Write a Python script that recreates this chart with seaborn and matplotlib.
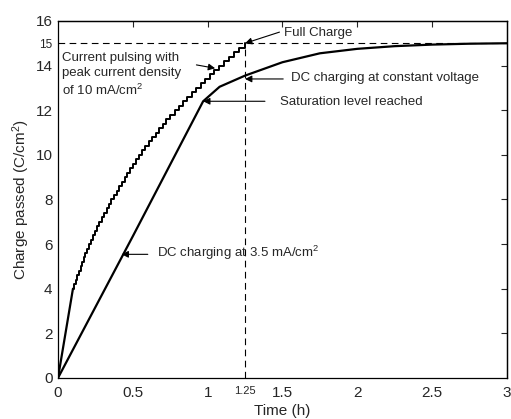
import pandas as pd
import numpy as np
import matplotlib
matplotlib.use("Agg")
import matplotlib.pyplot as plt
import seaborn as sns

# initial fast rise before the pulse teeth show up
rise_t = [0.0, 0.1]
rise_q = [0.0, 4.0]

# current pulsing (10 mA/cm2 peak): time at which each ~0.2 C/cm2 pulse lands
pulse_t = [0.1000, 0.1100, 0.1200, 0.1300, 0.1406, 0.1510, 0.1617, 0.1723,
           0.1833, 0.1944, 0.2066, 0.2197, 0.2336, 0.2479, 0.2625, 0.2773,
           0.2924, 0.3081, 0.3242, 0.3408, 0.3575, 0.3742, 0.3914, 0.4089,
           0.4268, 0.4446, 0.4630, 0.4815, 0.5000, 0.5200, 0.5406, 0.5620,
           0.5826, 0.6057, 0.6286, 0.6524, 0.6762, 0.7000, 0.7250, 0.7513,
           0.7792, 0.8097, 0.8353, 0.8639, 0.8926, 0.9221, 0.9531, 0.9844,
           1.0147, 1.0441, 1.0750, 1.1078, 1.1400, 1.1733, 1.2090, 1.2500]
pulse_q = [4.0, 4.2, 4.4, 4.6, 4.8, 5.0, 5.2, 5.4,
           5.6, 5.8, 6.0, 6.2, 6.4, 6.6, 6.8, 7.0,
           7.2, 7.4, 7.6, 7.8, 8.0, 8.2, 8.4, 8.6,
           8.8, 9.0, 9.2, 9.4, 9.6, 9.8, 10.0, 10.2,
           10.4, 10.6, 10.8, 11.0, 11.2, 11.4, 11.6, 11.8,
           12.0, 12.2, 12.4, 12.6, 12.8, 13.0, 13.2, 13.4,
           13.6, 13.8, 14.0, 14.2, 14.4, 14.6, 14.8, 15.0]

# DC charging at 3.5 mA/cm2, then constant voltage
dc_t = [0.0, 0.5, 0.97, 1.08, 1.25, 1.5, 1.75, 2.0, 2.25, 2.5, 2.75, 3.0]
dc_q = [0.0, 6.35, 12.4, 13.05, 13.55, 14.15, 14.55, 14.75, 14.87, 14.94, 14.98, 15.0]

full_t = 1.25
full_q = 15

x_ticks = [0, 0.5, 1, 1.25, 1.5, 2, 2.5, 3]
x_labels = ["0", "0.5", "1", "1.25", "1.5", "2", "2.5", "3"]
y_ticks = [0, 2, 4, 6, 8, 10, 12, 14, 15, 16]
y_labels = ["0", "2", "4", "6", "8", "10", "12", "14", "15", "16"]

sns.set_style("white")
plt.rcParams["font.family"] = ["Liberation Sans", "DejaVu Sans"]
plt.rcParams["mathtext.default"] = "regular"

fig = plt.figure(figsize=(5.11, 4.19), dpi=100)
ax = fig.add_axes([0.1135, 0.098, 0.8785, 0.852])

rise = pd.DataFrame({"t": rise_t, "q": rise_q})
pulse = pd.DataFrame({"t": pulse_t, "q": pulse_q})
dc = pd.DataFrame({"t": dc_t, "q": dc_q})

sns.lineplot(data=rise, x="t", y="q", ax=ax, color="black", lw=1.6, estimator=None)
sns.lineplot(data=pulse, x="t", y="q", ax=ax, color="black", lw=1.4,
             estimator=None, drawstyle="steps-post")
sns.lineplot(data=dc, x="t", y="q", ax=ax, color="black", lw=1.6, estimator=None)

# full charge guides
ax.axhline(full_q, color="black", lw=0.8, ls=(0, (6, 4)), zorder=1)
ax.plot([full_t, full_t], [0, full_q], color="black", lw=0.8, ls=(0, (6, 4)), zorder=1)

ax.set_xlim(0, 3)
ax.set_ylim(0, 16)
ax.set_xticks(x_ticks)
ax.set_xticklabels(x_labels)
ax.set_yticks(y_ticks)
ax.set_yticklabels(y_labels)
ax.tick_params(direction="in", length=4, width=0.8, labelsize=11)
ax.tick_params(axis="x", pad=6)
ax.tick_params(axis="y", pad=4)
for lab in ax.get_xticklabels():
    if lab.get_text() == "1.25":
        lab.set_fontsize(8)
for lab in ax.get_yticklabels():
    if lab.get_text() == "15":
        lab.set_fontsize(8.5)

top = ax.secondary_xaxis("top")
top.set_xticks([0.5, 1, 1.5, 2, 2.5])
top.tick_params(direction="in", length=4, width=0.8, labeltop=False)
right = ax.secondary_yaxis("right")
right.set_yticks([2, 4, 6, 8, 10, 12, 14])
right.tick_params(direction="in", length=4, width=0.8, labelright=False)

for s in list(ax.spines.values()) + [top.spines["top"], right.spines["right"]]:
    s.set_linewidth(0.9)
    s.set_color("black")

ax.set_xlabel("Time (h)", fontsize=11, labelpad=3)
ax.set_ylabel("Charge passed (C/cm$^2$)", fontsize=11)
ax.yaxis.set_label_coords(-0.058, 0.5)

arrow = dict(arrowstyle="-|>", color="black", lw=0.8, mutation_scale=10,
             shrinkA=0, shrinkB=0)
fs = 9.5

ax.annotate("", xy=(full_t, full_q), xytext=(1.48, 15.5), arrowprops=arrow)
ax.text(1.51, 15.45, "Full Charge", fontsize=fs, va="center", ha="left")

ax.text(0.027, 14.6, "Current pulsing with\npeak current density\nof 10 mA/cm$^2$",
        fontsize=fs, va="top", ha="left", linespacing=1.33)
ax.annotate("", xy=(1.05, 13.88), xytext=(0.925, 14.03), arrowprops=arrow)

ax.annotate("", xy=(1.25, 13.4), xytext=(1.505, 13.4), arrowprops=arrow)
ax.text(1.554, 13.46, "DC charging at constant voltage", fontsize=fs,
        va="center", ha="left")

ax.annotate("", xy=(0.97, 12.4), xytext=(1.383, 12.4), arrowprops=arrow)
ax.text(1.483, 12.38, "Saturation level reached", fontsize=fs,
        va="center", ha="left")

ax.annotate("", xy=(0.425, 5.54), xytext=(0.60, 5.54), arrowprops=arrow)
ax.text(0.659, 5.62, "DC charging at 3.5 mA/cm$^2$", fontsize=fs,
        va="center", ha="left")

fig.savefig("out.png", dpi=100, facecolor="white")
